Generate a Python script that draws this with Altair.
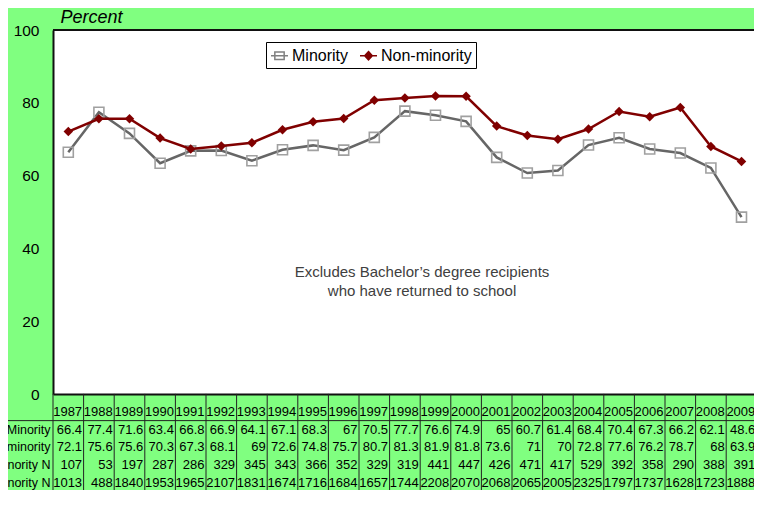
import altair as alt
import pandas as pd

# ---------------- data ----------------
years = list(range(1987, 2010))
minority = [66.4, 77.4, 71.6, 63.4, 66.8, 66.9, 64.1, 67.1, 68.3, 67,
            70.5, 77.7, 76.6, 74.9, 65, 60.7, 61.4, 68.4, 70.4, 67.3,
            66.2, 62.1, 48.6]
non_minority = [72.1, 75.6, 75.6, 70.3, 67.3, 68.1, 69, 72.6, 74.8, 75.7,
                80.7, 81.3, 81.9, 81.8, 73.6, 71, 70, 72.8, 77.6, 76.2,
                78.7, 68, 63.9]
minority_n = [107, 53, 197, 287, 286, 329, 345, 343, 366, 352,
              329, 319, 441, 447, 426, 471, 417, 529, 392, 358,
              290, 388, 391]
non_minority_n = [1013, 488, 1840, 1953, 1965, 2107, 1831, 1674, 1716, 1684,
                  1657, 1744, 2208, 2070, 2068, 2065, 2005, 2325, 1797, 1737,
                  1628, 1723, 1888]
series_names = ["Minority", "Non-minority"]
row_labels = ["Minority", "Non-minority", "Minority N", "Non-minority N"]
y_ticks = [0, 20, 40, 60, 80, 100]
note_lines = ["Excludes Bachelor\u2019s degree recipients", "who have returned to school"]

# ---------------- tables ----------------
n = len(years)
idx = list(range(n))
lines_df = pd.DataFrame({
    "idx": idx * 2,
    "series": [series_names[0]] * n + [series_names[1]] * n,
    "value": minority + non_minority,
})


def fmt(v):
    return f"{v:g}"


table_rows = [
    [str(y) for y in years],
    [fmt(v) for v in minority],
    [fmt(v) for v in non_minority],
    [str(v) for v in minority_n],
    [str(v) for v in non_minority_n],
]
table_df = pd.DataFrame(
    [{"idx": i, "row": r, "text": t} for r, row in enumerate(table_rows) for i, t in enumerate(row)]
)
labels_df = pd.DataFrame({"row": list(range(1, len(row_labels) + 1)), "label": row_labels})
bounds_df = pd.DataFrame({"b": [i - 0.5 for i in range(n + 1)]})
one = pd.DataFrame({"a": [0]})

# ---------------- layout ----------------
CW = 30.6
W = 701
H = 364
PAD_L, PAD_T, PAD_B = 45, 22, 96
FONT = "Liberation Sans"
RED = "#800000"

X = alt.Scale(domain=[-0.5, n - 0.5], range=[0, CW * n], nice=False, zero=False)
x_axis = alt.Axis(labels=False, ticks=False, grid=False, title=None,
                  domainColor="#111111", domainWidth=2)
Y = alt.Scale(domain=[0, 100], nice=False, zero=True)
y_axis = alt.Axis(values=y_ticks, ticks=False, grid=False, labelPadding=14,
                  labelFontSize=15.5, labelColor="black", labelFlush=False,
                  domainColor="#111111", domainWidth=2,
                  title="Percent", titleAngle=0, titleAlign="left",
                  titleBaseline="alphabetic", titleX=7, titleY=-8,
                  titleFontSize=18, titleFontStyle="italic",
                  titleFontWeight="normal", titleColor="black")
TY = alt.Scale(domain=[0, 4], range=[H + 17.7, H + 89], nice=False, zero=False)

xq = alt.X("idx:Q", scale=X, axis=x_axis)
yq = alt.Y("value:Q", scale=Y, axis=y_axis)

base = alt.Chart(lines_df)

top_rule = alt.Chart(one).mark_rule(color="#111111", strokeWidth=2).encode(
    x=alt.X(datum=-0.5, type="quantitative", scale=X, axis=x_axis),
    x2=alt.datum(n + 1),
    y=alt.Y(datum=100, type="quantitative", scale=Y, axis=y_axis),
)

min_line = base.transform_filter(alt.datum.series == series_names[0]).mark_line(
    color="#666666", strokeWidth=2.5).encode(x=xq, y=yq)
min_pts = base.transform_filter(alt.datum.series == series_names[0]).mark_point(
    shape="square", filled=False, color="#a0a0a0", strokeWidth=1.6, size=100, opacity=1
).encode(x=xq, y=yq)
non_line = base.transform_filter(alt.datum.series == series_names[1]).mark_line(
    color=RED, strokeWidth=2.5).encode(x=xq, y=yq)
non_pts = base.transform_filter(alt.datum.series == series_names[1]).mark_point(
    shape="diamond", filled=True, color=RED, size=90, opacity=1
).encode(x=xq, y=yq)

min_path = "M-1,0H1M-0.55,-0.45H0.55V0.45H-0.55Z"
non_path = "M-1,0H1M0,-0.5L0.45,0L0,0.5L-0.45,0Z"
legend = alt.Legend(orient="none", legendX=213, legendY=12, direction="horizontal",
                    title=None, fillColor="white", strokeColor="black", padding=4,
                    labelFontSize=16, labelFont=FONT, labelColor="black",
                    symbolSize=289, symbolStrokeWidth=1.5, columnPadding=8,
                    labelOffset=3, symbolOpacity=1)
legend_layer = base.transform_filter("false").mark_point(
    filled=True, size=289, strokeWidth=1.5
).encode(
    x=xq, y=yq,
    fill=alt.Fill("series:N", scale=alt.Scale(domain=series_names, range=["white", RED]), legend=legend),
    stroke=alt.Stroke("series:N", scale=alt.Scale(domain=series_names, range=["#808080", RED]), legend=legend),
    shape=alt.Shape("series:N", scale=alt.Scale(domain=series_names, range=[min_path, non_path]), legend=legend),
)

note = alt.Chart(one).mark_text(fontSize=15, color="#404040", lineHeight=19,
                                align="center", baseline="middle", font=FONT).encode(
    x=alt.X(datum=11.56, type="quantitative", scale=X, axis=x_axis),
    y=alt.Y(datum=33.6, type="quantitative", scale=Y, axis=y_axis),
    text=alt.value(note_lines),
)

main = alt.layer(top_rule, min_line, min_pts, non_line, non_pts, legend_layer, note)

# ---------------- data table ----------------
bounds = alt.Chart(bounds_df).mark_rule(color="#222222", strokeWidth=1).encode(
    x=alt.X("b:Q", scale=X, axis=x_axis),
    y=alt.Y(datum=-1, type="quantitative", scale=TY, axis=None),
    y2=alt.datum(5),
)
header_rule = alt.Chart(one).mark_rule(color="#222222", strokeWidth=1).encode(
    x=alt.X(datum=-5, type="quantitative", scale=X, axis=x_axis),
    x2=alt.datum(n + 1),
    y=alt.Y(datum=0.5, type="quantitative", scale=TY, axis=None),
)
table_text = alt.Chart(table_df).mark_text(
    align="right", baseline="middle", fontSize=13, dx=CW / 2 - 1.5, color="black", font=FONT
).encode(
    x=alt.X("idx:Q", scale=X, axis=x_axis),
    y=alt.Y("row:Q", scale=TY, axis=None),
    text="text:N",
)
row_text = alt.Chart(labels_df).mark_text(
    align="right", baseline="middle", fontSize=12.5, dx=-2.5, color="black", font=FONT
).encode(
    x=alt.X(datum=-0.5, type="quantitative", scale=X, axis=x_axis),
    y=alt.Y("row:Q", scale=TY, axis=None),
    text="label:N",
)
table = alt.layer(bounds, header_rule, table_text, row_text)

chart = alt.layer(main, table).resolve_scale(y="independent").properties(
    width=W, height=H,
    autosize=alt.AutoSizeParams(type="none"),
    padding={"left": PAD_L, "top": PAD_T, "right": 0, "bottom": PAD_B},
    background="#80ff80",
    view=alt.ViewBackground(fill="white", stroke=None),
).configure(font=FONT)

chart.save("out.html", embed_options={"renderer": "svg", "actions": False})
